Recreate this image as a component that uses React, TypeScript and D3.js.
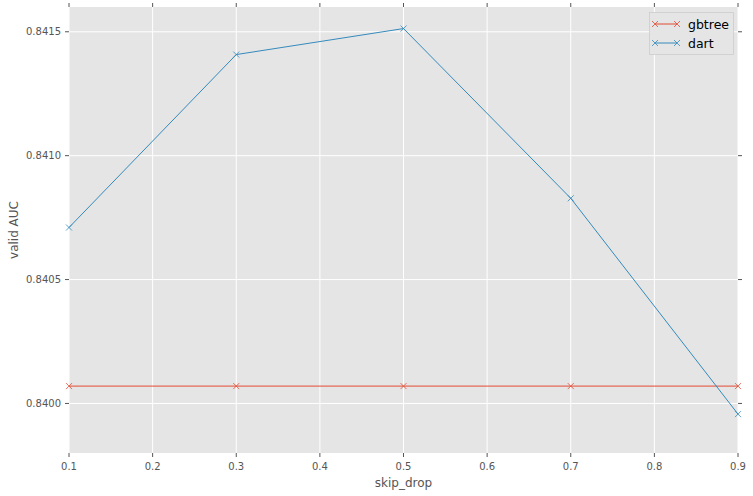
import * as d3 from "d3";

// values
const skipDrop = [0.1, 0.3, 0.5, 0.7, 0.9];
const gbtreeAuc = [0.84007, 0.84007, 0.84007, 0.84007, 0.84007];
const dartAuc = [0.84071, 0.841408, 0.841513, 0.840828, 0.839957];
const xTicks = [0.1, 0.2, 0.3, 0.4, 0.5, 0.6, 0.7, 0.8, 0.9];
const yTicks = [0.84, 0.8405, 0.841, 0.8415];

const series = [
	{ name: "gbtree", values: gbtreeAuc, color: "#E24A33" },
	{ name: "dart", values: dartAuc, color: "#348ABD" },
];

const W = 753;
const H = 496;
const margin = { top: 7, right: 15, bottom: 43, left: 69 };
const font = "DejaVu Sans, sans-serif";

export default function App() {
	const x = d3
		.scaleLinear()
		.domain([0.1, 0.9])
		.range([margin.left, W - margin.right]);
	const y = d3
		.scaleLinear()
		.domain([0.8398, 0.8416])
		.range([H - margin.bottom, margin.top]);

	const line = d3
		.line<number>()
		.x((_, i) => x(skipDrop[i]))
		.y((d) => y(d));

	const [x0, x1] = x.range();
	const [y0, y1] = y.range();
	const tickCol = "#555555";

	const cross = (cx: number, cy: number, color: string, key: string) => (
		<path
			key={key}
			d={`M${cx - 3},${cy - 3}L${cx + 3},${cy + 3}M${cx - 3},${cy + 3}L${cx + 3},${cy - 3}`}
			stroke={color}
			strokeWidth={0.8}
			fill="none"
		/>
	);

	return (
		<svg
			width={W}
			height={H}
			style={{ position: "absolute", left: 0, top: 0 }}
			fontFamily={font}
		>
			<rect x={0} y={0} width={W} height={H} fill="white" />
			<rect x={x0} y={y1} width={x1 - x0} height={y0 - y1} fill="#E5E5E5" />
			{/* grid */}
			{xTicks.map((t) => (
				<line key={"gx" + t} x1={x(t)} x2={x(t)} y1={y1} y2={y0} stroke="white" strokeWidth={1} />
			))}
			{yTicks.map((t) => (
				<line key={"gy" + t} x1={x0} x2={x1} y1={y(t)} y2={y(t)} stroke="white" strokeWidth={1} />
			))}
			{/* ticks + labels */}
			{xTicks.map((t) => (
				<g key={"tx" + t}>
					<line x1={x(t)} x2={x(t)} y1={y0} y2={y0 + 4} stroke={tickCol} />
					<line x1={x(t)} x2={x(t)} y1={y1} y2={y1 - 4} stroke={tickCol} />
					<text x={x(t)} y={y0 + 17} textAnchor="middle" fontSize={10} fill={tickCol}>
						{d3.format(".1f")(t)}
					</text>
				</g>
			))}
			{yTicks.map((t) => (
				<g key={"ty" + t}>
					<line x1={x0} x2={x0 - 4} y1={y(t)} y2={y(t)} stroke={tickCol} />
					<line x1={x1} x2={x1 + 4} y1={y(t)} y2={y(t)} stroke={tickCol} />
					<text x={x0 - 8} y={y(t) + 3.5} textAnchor="end" fontSize={10} fill={tickCol}>
						{d3.format(".4f")(t)}
					</text>
				</g>
			))}
			<text x={(x0 + x1) / 2} y={487} textAnchor="middle" fontSize={12} fill={tickCol}>
				skip_drop
			</text>
			<text
				transform={`translate(18,${(y0 + y1) / 2}) rotate(-90)`}
				textAnchor="middle"
				fontSize={12}
				fill={tickCol}
			>
				valid AUC
			</text>
			{/* series */}
			<g>
				{series.map((s) => (
					<g key={s.name}>
						<path d={line(s.values) ?? ""} stroke={s.color} strokeWidth={1} fill="none" />
						{s.values.map((v, i) => cross(x(skipDrop[i]), y(v), s.color, s.name + i))}
					</g>
				))}
			</g>
			{/* legend */}
			<g>
				<rect x={649.5} y={12.5} width={84} height={42} fill="#E5E5E5" stroke="#CCCCCC" strokeWidth={0.8} />
				{series.map((s, i) => {
					const ly = 24 + i * 19;
					return (
						<g key={"lg" + s.name}>
							<line x1={655} x2={677} y1={ly} y2={ly} stroke={s.color} strokeWidth={1} />
							{cross(655, ly, s.color, "la" + s.name)}
							{cross(677, ly, s.color, "lb" + s.name)}
							<text x={688} y={ly + 4.5} fontSize={12.5} fill="black">
								{s.name}
							</text>
						</g>
					);
				})}
			</g>
		</svg>
	);
}
